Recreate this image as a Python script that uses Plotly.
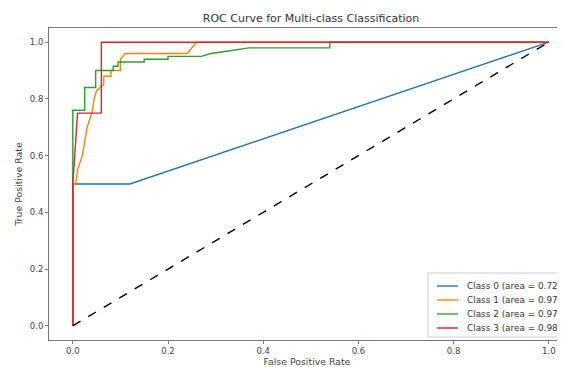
import plotly.graph_objects as go

# ROC data (false positive rate, true positive rate) per class
class_names = ["Class 0", "Class 1", "Class 2", "Class 3"]
areas = [0.72, 0.97, 0.97, 0.98]

fpr0 = [0, 0, 0.12, 1]
tpr0 = [0, 0.5, 0.5, 1]

fpr1 = [0, 0, 0.006, 0.01, 0.02, 0.025, 0.03, 0.04, 0.045, 0.05, 0.065, 0.065, 0.08, 0.08, 0.1, 0.1, 0.11, 0.24, 0.25, 0.26, 1]
tpr1 = [0, 0.5, 0.5, 0.55, 0.6, 0.65, 0.7, 0.75, 0.8, 0.83, 0.85, 0.88, 0.88, 0.9, 0.9, 0.94, 0.96, 0.96, 0.98, 1.0, 1]

fpr2 = [0, 0, 0.025, 0.025, 0.048, 0.048, 0.085, 0.085, 0.095, 0.095, 0.15, 0.15, 0.2, 0.2, 0.27, 0.29, 0.33, 0.37, 0.54, 0.54, 1]
tpr2 = [0, 0.76, 0.76, 0.84, 0.84, 0.90, 0.90, 0.915, 0.915, 0.93, 0.93, 0.94, 0.94, 0.95, 0.95, 0.96, 0.97, 0.98, 0.98, 1.0, 1]

fpr3 = [0, 0, 0.01, 0.06, 0.06, 1]
tpr3 = [0, 0.5, 0.75, 0.75, 1.0, 1]

diag = [0, 1]
tick_vals = [0, 0.2, 0.4, 0.6, 0.8, 1.0]
tick_text = ["0.0", "0.2", "0.4", "0.6", "0.8", "1.0"]

fprs = [fpr0, fpr1, fpr2, fpr3]
tprs = [tpr0, tpr1, tpr2, tpr3]
colors = ["#1f77b4", "#ff7f0e", "#2ca02c", "#d62728"]

# figure geometry (the page shows the figure offset by the 8px body margin)
W, H = 565, 367
L, T, B, R = 41, 20, 332, 557   # plot area edges in figure pixels


def px(x):
    return (x - L) / (R - L)


def py(y):
    return (B - y) / (B - T)


fig = go.Figure()
for name, a, x, y, c in zip(class_names, areas, fprs, tprs, colors):
    fig.add_trace(go.Scatter(x=x, y=y, mode="lines", name=f"{name} (area = {a:.2f})",
                             line=dict(color=c, width=1.4), showlegend=False))
fig.add_trace(go.Scatter(x=diag, y=diag, mode="lines", showlegend=False,
                         line=dict(color="black", width=1.4, dash="dash")))

# legend drawn as box + handles + labels
shapes = [dict(type="rect", xref="paper", yref="paper",
               x0=px(420), x1=px(575), y0=py(329), y1=py(265),
               line=dict(color="#cccccc", width=1), fillcolor="rgba(255,255,255,0.85)",
               layer="above")]
annotations = []
row_y = [278, 292, 306, 320]
for i, (name, a, c) in enumerate(zip(class_names, areas, colors)):
    shapes.append(dict(type="line", xref="paper", yref="paper",
                       x0=px(429), x1=px(450), y0=py(row_y[i]), y1=py(row_y[i]),
                       line=dict(color=c, width=1.4), layer="above"))
    annotations.append(dict(xref="paper", yref="paper", x=px(457), y=py(row_y[i]),
                            xanchor="left", yanchor="middle", showarrow=False,
                            text=f"{name} (area = {a:.2f})",
                            font=dict(size=8.9, color="#333")))

fig.update_layout(
    width=W, height=H,
    margin=dict(l=L, r=W - R, t=T, b=H - B, autoexpand=False),
    paper_bgcolor="white", plot_bgcolor="white",
    font=dict(family="DejaVu Sans", size=9, color="#444"),
    showlegend=False,
    title=dict(text="ROC Curve for Multi-class Classification", x=px(303) * (R - L) / W + L / W,
               xanchor="center", y=1 - 10 / H, yanchor="middle",
               font=dict(size=11, color="#333")),
    xaxis=dict(range=[-0.05, 1.034], tickvals=tick_vals, ticktext=tick_text,
               showgrid=False, zeroline=False, showline=True, mirror=True,
               linecolor="#777", linewidth=1, ticks="outside", ticklen=3, tickcolor="#777",
               tickfont=dict(size=8.5),
               title=dict(text="False Positive Rate", standoff=3, font=dict(size=9.4))),
    yaxis=dict(range=[-0.05, 1.05], tickvals=tick_vals, ticktext=tick_text,
               showgrid=False, zeroline=False, showline=True, mirror=False,
               linecolor="#777", linewidth=1, ticks="outside", ticklen=3, tickcolor="#777",
               tickfont=dict(size=8.5),
               title=dict(text="True Positive Rate", standoff=5, font=dict(size=9.4))),
    shapes=shapes,
    annotations=annotations,
)

fig.write_html("out.html")
